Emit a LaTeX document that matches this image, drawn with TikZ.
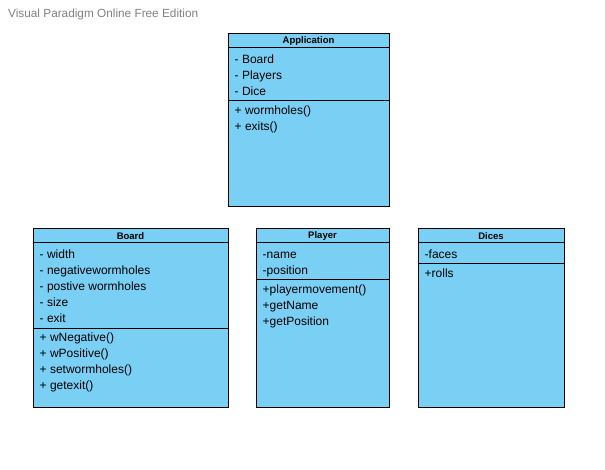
\documentclass[tikz,border=0pt]{standalone}
\usepackage{fontspec}
\setmainfont{Liberation Sans}
\usetikzlibrary{positioning}

\definecolor{umlblue}{RGB}{122,207,245}
\definecolor{wmgray}{RGB}{128,128,128}

\tikzset{
    classhead/.style={draw, fill=umlblue, line width=1pt, inner sep=0pt, outer sep=0pt,
        minimum height=14.5pt, font=\bfseries\fontsize{9.5}{9.5}\selectfont},
    compart/.style={draw, fill=umlblue, line width=1pt, inner sep=0pt, outer sep=0pt},
    members/.style={anchor=north west, align=left, inner sep=0pt,
        font=\fontsize{12}{16}\selectfont}
}

\begin{document}
\begin{tikzpicture}[x=1pt, y=-1pt]
    \useasboundingbox (0,0) rectangle (605,470);

    % Watermark in the corner
    \node[anchor=base west, inner sep=0pt, text=wmgray, font=\fontsize{11.8}{12}\selectfont]
        (watermark) at (8,17.5) {Visual Paradigm Online Free Edition};

    % Application class
    \node[classhead, minimum width=161pt, anchor=north west] (apphead) at (228,33.5) {Application};
    \node[compart, minimum width=161pt, minimum height=53pt, below=0pt of apphead] (appattr) {};
    \node[compart, minimum width=161pt, minimum height=106pt, below=0pt of appattr] (appmeth) {};
    \node[members] (appattrtext) at ([xshift=6.5pt, yshift=-4.5pt]appattr.north west)
        {\strut- Board\\- Players\\- Dice};
    \node[members] (appmethtext) at ([xshift=6.5pt, yshift=-2pt]appmeth.north west)
        {\strut+ wormholes()\\+ exits()};

    % Board class
    \node[classhead, minimum width=195pt, anchor=north west] (boardhead) at (33,228.5) {Board};
    \node[compart, minimum width=195pt, minimum height=85pt, below=0pt of boardhead] (boardattr) {};
    \node[compart, minimum width=195pt, minimum height=79pt, below=0pt of boardattr] (boardmeth) {};
    \node[members] (boardattrtext) at ([xshift=6.5pt, yshift=-4.5pt]boardattr.north west)
        {\strut- width\\- negativewormholes\\- postive wormholes\\- size\\- exit};
    \node[members] (boardmethtext) at ([xshift=6.5pt, yshift=-2pt]boardmeth.north west)
        {\strut+ wNegative()\\+ wPositive()\\+ setwormholes()\\+ getexit()};

    % Player class
    \node[classhead, minimum width=133pt, anchor=north west] (playerhead) at (256,228.5) {Player};
    \node[compart, minimum width=133pt, minimum height=37pt, below=0pt of playerhead] (playerattr) {};
    \node[compart, minimum width=133pt, minimum height=127pt, below=0pt of playerattr] (playermeth) {};
    \node[members] (playerattrtext) at ([xshift=6.5pt, yshift=-4.5pt]playerattr.north west)
        {\strut-name\\-position};
    \node[members] (playermethtext) at ([xshift=6.5pt, yshift=-2pt]playermeth.north west)
        {\strut+playermovement()\\+getName\\+getPosition};

    % Dices class
    \node[classhead, minimum width=146pt, anchor=north west] (diceshead) at (418,228.5) {Dices};
    \node[compart, minimum width=146pt, minimum height=21pt, below=0pt of diceshead] (dicesattr) {};
    \node[compart, minimum width=146pt, minimum height=143pt, below=0pt of dicesattr] (dicesmeth) {};
    \node[members] (dicesattrtext) at ([xshift=6.5pt, yshift=-4.5pt]dicesattr.north west)
        {\strut-faces};
    \node[members] (dicesmethtext) at ([xshift=6.5pt, yshift=-2pt]dicesmeth.north west)
        {\strut+rolls};
\end{tikzpicture}
\end{document}
